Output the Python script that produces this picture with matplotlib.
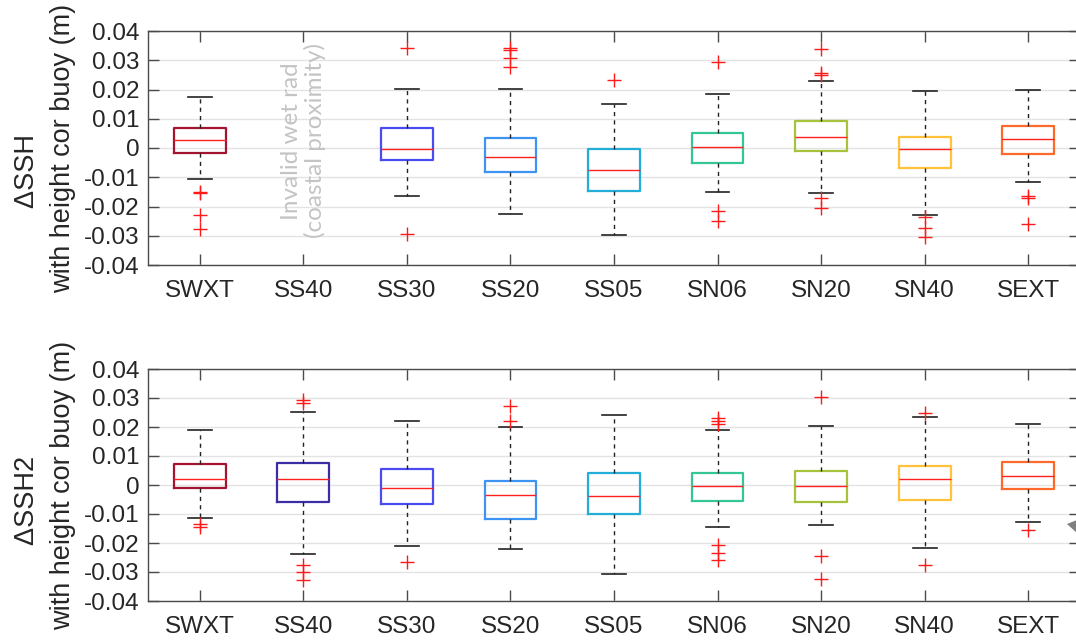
import matplotlib
matplotlib.use("Agg")
import matplotlib.pyplot as plt
from matplotlib.patches import Polygon

# Station names along the x axis
stations = ["SWXT", "SS40", "SS30", "SS20", "SS05", "SN06", "SN20", "SN40", "SEXT"]
box_colors = ["#A2142F", "#3A2DA6", "#4B4BF2", "#3D94F2", "#22AED6",
              "#36C695", "#A7C33C", "#FFC23A", "#FF6A2A"]

# Panel 1: dSSH (m); SS40 has no valid data (None)
ssh_whislo = [-0.0106, None, -0.0163, -0.0225, -0.0297, -0.0151, -0.0155, -0.0228, -0.0116]
ssh_q1     = [-0.0018, None, -0.0042, -0.0081, -0.0146, -0.0051, -0.0011, -0.0068, -0.0019]
ssh_med    = [0.0027, None, -0.0005, -0.0031, -0.0074, 0.0003, 0.0037, -0.0005, 0.0032]
ssh_q3     = [0.0067, None, 0.0067, 0.0035, -0.0003, 0.0052, 0.0092, 0.0039, 0.0075]
ssh_whishi = [0.0175, None, 0.0201, 0.0201, 0.0149, 0.0186, 0.0230, 0.0195, 0.0197]
ssh_fliers = [
    [-0.0150, -0.0155, -0.0229, -0.0278],
    [],
    [0.0341, -0.0295],
    [0.0343, 0.0336, 0.0307, 0.0278],
    [0.0231],
    [0.0294, -0.0214, -0.0250],
    [0.0337, 0.0255, 0.0250, -0.0171, -0.0206],
    [-0.0237, -0.0272, -0.0305],
    [-0.0165, -0.0170, -0.0259],
]

# Panel 2: dSSH2 (m)
ssh2_whislo = [-0.0115, -0.0238, -0.0209, -0.0222, -0.0307, -0.0144, -0.0139, -0.0216, -0.0128]
ssh2_q1     = [-0.0011, -0.0057, -0.0066, -0.0116, -0.0099, -0.0055, -0.0060, -0.0053, -0.0013]
ssh2_med    = [0.0022, 0.0020, -0.0011, -0.0033, -0.0037, -0.0002, -0.0002, 0.0020, 0.0031]
ssh2_q3     = [0.0071, 0.0075, 0.0056, 0.0015, 0.0041, 0.0043, 0.0048, 0.0064, 0.0080]
ssh2_whishi = [0.0190, 0.0251, 0.0222, 0.0200, 0.0241, 0.0189, 0.0203, 0.0236, 0.0210]
ssh2_fliers = [
    [-0.0135, -0.0145],
    [0.0293, 0.0284, -0.0276, -0.0301, -0.0328],
    [-0.0267],
    [0.0274, 0.0222],
    [],
    [0.0230, 0.0222, 0.0209, -0.0207, -0.0236, -0.0259],
    [0.0305, -0.0244, -0.0323],
    [0.0248, -0.0276],
    [-0.0155],
]

y_ticks = [-0.04, -0.03, -0.02, -0.01, 0, 0.01, 0.02, 0.03, 0.04]
y_tick_labels = ["-0.04", "-0.03", "-0.02", "-0.01", "0", "0.01", "0.02", "0.03", "0.04"]

plt.rcParams["font.family"] = ["Liberation Sans", "DejaVu Sans"]

fig = plt.figure(figsize=(10.76, 6.4), dpi=100)
ax_top = fig.add_axes([148 / 1076, 1 - 265 / 640, (1080 - 148) / 1076, 234 / 640])
ax_bot = fig.add_axes([148 / 1076, 1 - 601 / 640, (1080 - 148) / 1076, 232 / 640])

text_col = "#262626"
spine_col = "#4A4A4A"


def draw_panel(ax, whislo, q1, med, q3, whishi, fliers, ylabel):
    for i in range(len(stations)):
        if med[i] is None:
            continue
        stats = [dict(whislo=whislo[i], q1=q1[i], med=med[i], q3=q3[i],
                      whishi=whishi[i], fliers=fliers[i])]
        ax.bxp(stats, positions=[i + 1], widths=0.5, patch_artist=False,
               manage_ticks=False,
               boxprops=dict(color=box_colors[i], linewidth=1.6),
               medianprops=dict(color="#FF2020", linewidth=1.0),
               whiskerprops=dict(color="#222222", linewidth=1.0,
                                 linestyle=(0, (3, 3))),
               capprops=dict(color="#222222", linewidth=1.2),
               capwidths=0.23,
               flierprops=dict(marker="+", markeredgecolor="#FF1A1A",
                               markersize=10, markeredgewidth=1.0,
                               linestyle="none"))
    ax.set_xlim(0.5, 9.5)
    ax.set_ylim(-0.04, 0.04)
    ax.set_xticks(range(1, len(stations) + 1))
    ax.set_xticklabels(stations)
    ax.set_yticks(y_ticks)
    ax.set_yticklabels(y_tick_labels)
    ax.yaxis.grid(True, color="#E3E3E3", linewidth=1.0)
    ax.set_axisbelow(True)
    ax.tick_params(axis="both", direction="in", length=8, width=1.0,
                   color=spine_col, labelsize=17.5, labelcolor=text_col,
                   top=True, right=True)
    ax.tick_params(axis="x", pad=11)
    ax.tick_params(axis="y", pad=6)
    for s in ax.spines.values():
        s.set_color(spine_col)
        s.set_linewidth(1.0)
    ax.set_ylabel(ylabel, fontsize=19.5, color=text_col, labelpad=6,
                  linespacing=1.5)


draw_panel(ax_top, ssh_whislo, ssh_q1, ssh_med, ssh_q3, ssh_whishi, ssh_fliers,
           "\u0394SSH      \nwith height cor buoy (m)")
draw_panel(ax_bot, ssh2_whislo, ssh2_q1, ssh2_med, ssh2_q3, ssh2_whishi, ssh2_fliers,
           "\u0394SSH2    \nwith height cor buoy (m)")

# Note where the SS40 station has no valid data
ax_top.text(2, 0.0024, "Invalid wet rad\n(coastal proximity)", rotation=90,
            ha="center", va="center", color="#C4C4C4", fontsize=17.5,
            family=["Lato", "DejaVu Sans"], linespacing=1.1)

# Small grey pointer at the right margin
fig.patches.append(Polygon([[1067 / 1076, 1 - 524 / 640],
                            [1077 / 1076, 1 - 520 / 640],
                            [1077 / 1076, 1 - 533 / 640]],
                           closed=True, transform=fig.transFigure,
                           facecolor="#808080", edgecolor="none"))

fig.savefig("out.png", dpi=100)
